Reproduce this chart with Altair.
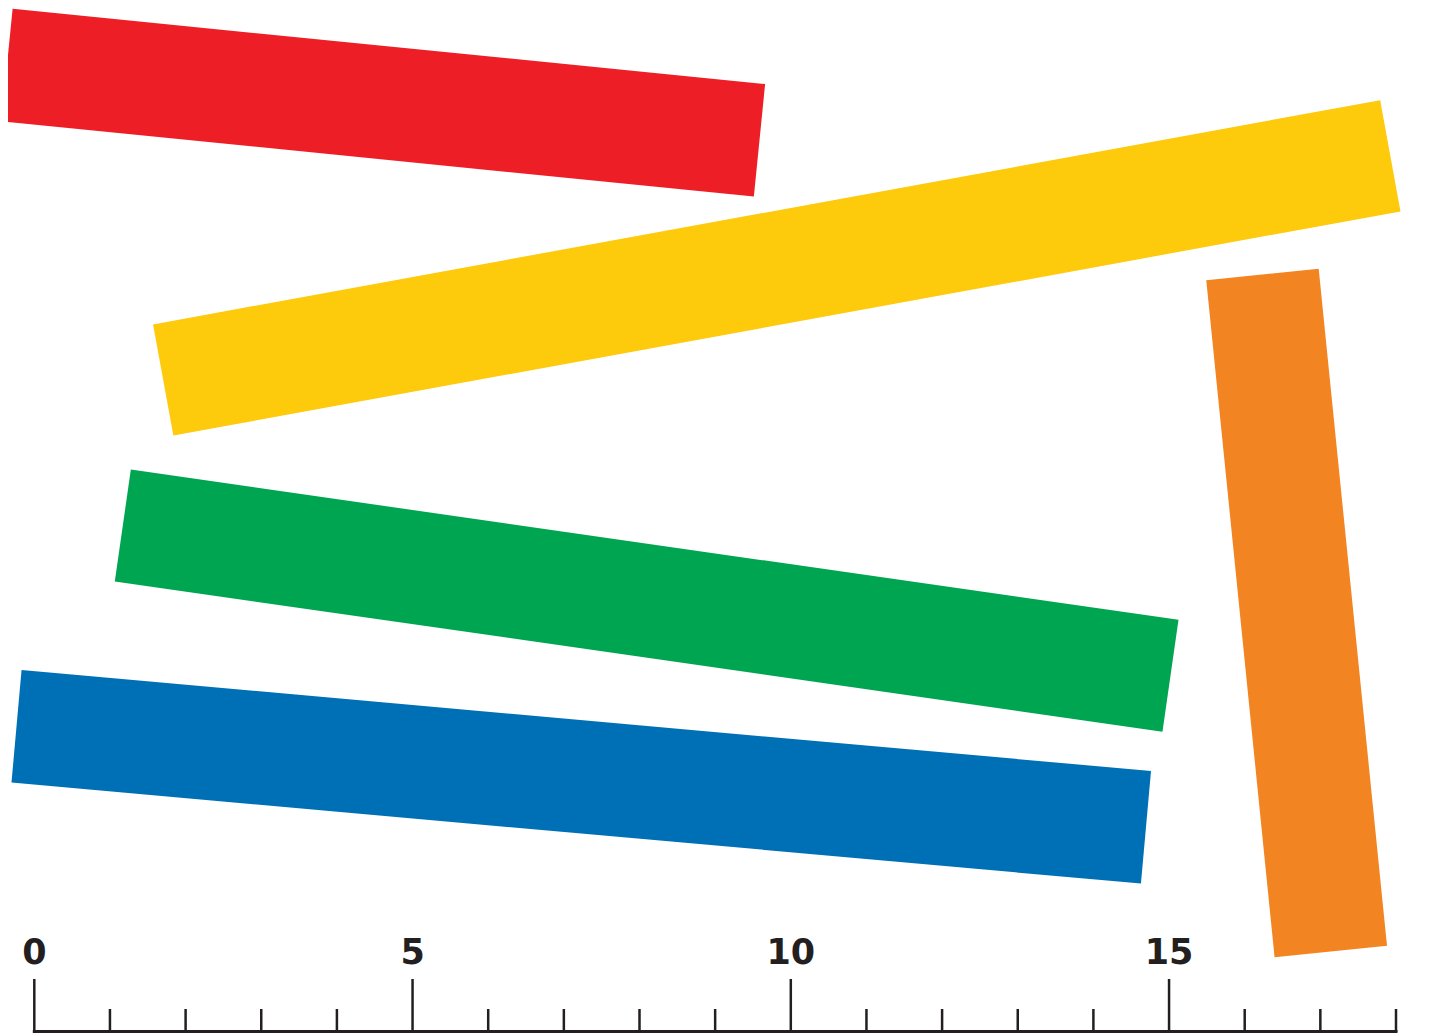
import altair as alt
import pandas as pd

# Sticks: centre-line end points in ruler units (x along the ruler, y measured downward)
stick_names = ["red", "yellow", "green", "blue", "orange"]
stick_x1 = [-0.361, 1.704, 1.170, -0.235, 16.235]
stick_y1 = [0.754, 4.917, 6.841, 9.495, 3.523]
stick_x2 = [9.586, 17.925, 15.019, 14.695, 17.138]
stick_y2 = [1.749, 1.954, 8.827, 10.830, 12.472]
stick_colors = ["#ED1E26", "#FDCA0C", "#00A551", "#0070B6", "#F38422"]

# Ruler
tick_positions = list(range(0, 19))
major_ticks = [0, 5, 10, 15]
tick_labels = ["0", "5", "10", "15"]

W, H = 1420, 1025
PX_PER_UNIT = 75.65
x_lo = -(34.3 - 8) / PX_PER_UNIT
x_hi = x_lo + W / PX_PER_UNIT
y_hi = H / PX_PER_UNIT

xs = alt.Scale(domain=[x_lo, x_hi], nice=False, zero=False)
ys = alt.Scale(domain=[0, y_hi], nice=False, zero=False, reverse=True)

sticks_df = pd.DataFrame({
    "name": stick_names, "x1": stick_x1, "y1": stick_y1,
    "x2": stick_x2, "y2": stick_y2, "color": stick_colors,
})

sticks = alt.Chart(sticks_df).mark_rule(strokeWidth=113, strokeCap="butt").encode(
    x=alt.X("x1:Q", scale=xs, axis=None),
    y=alt.Y("y1:Q", scale=ys, axis=None),
    x2="x2:Q",
    y2="y2:Q",
    color=alt.Color("color:N", scale=None),
)

ticks_df = pd.DataFrame({
    "pos": tick_positions,
    "major": [p in major_ticks for p in tick_positions],
})

minor = alt.Chart(ticks_df).transform_filter("!datum.major").mark_rule(
    strokeWidth=2.5, color="#231F20"
).encode(
    x=alt.X("pos:Q", scale=xs, axis=None),
    y=alt.value(1001), y2=alt.value(1024),
)
major = alt.Chart(ticks_df).transform_filter("datum.major").mark_rule(
    strokeWidth=2.5, color="#231F20"
).encode(
    x=alt.X("pos:Q", scale=xs, axis=None),
    y=alt.value(971), y2=alt.value(1024),
)

base_df = pd.DataFrame({"start": [tick_positions[0]], "end": [tick_positions[-1]]})
baseline = alt.Chart(base_df).mark_rule(
    strokeWidth=3, color="#231F20", strokeCap="square"
).encode(
    x=alt.X("start:Q", scale=xs, axis=None),
    x2="end:Q",
    y=alt.value(1023.5),
)

labels_df = pd.DataFrame({"pos": major_ticks, "label": tick_labels})
labels = alt.Chart(labels_df).mark_text(
    font="DejaVu Sans", fontWeight="bold", fontSize=35, color="#231F20",
    align="center", baseline="alphabetic",
).encode(
    x=alt.X("pos:Q", scale=xs, axis=None),
    y=alt.value(956),
    text="label:N",
)

chart = alt.layer(sticks, baseline, minor, major, labels).properties(
    width=W, height=H, padding=0, autosize=alt.AutoSizeParams(type="none"),
    background="white",
).configure_view(stroke=None)

chart.save("out.html", embed_options={"renderer": "svg", "actions": False})
